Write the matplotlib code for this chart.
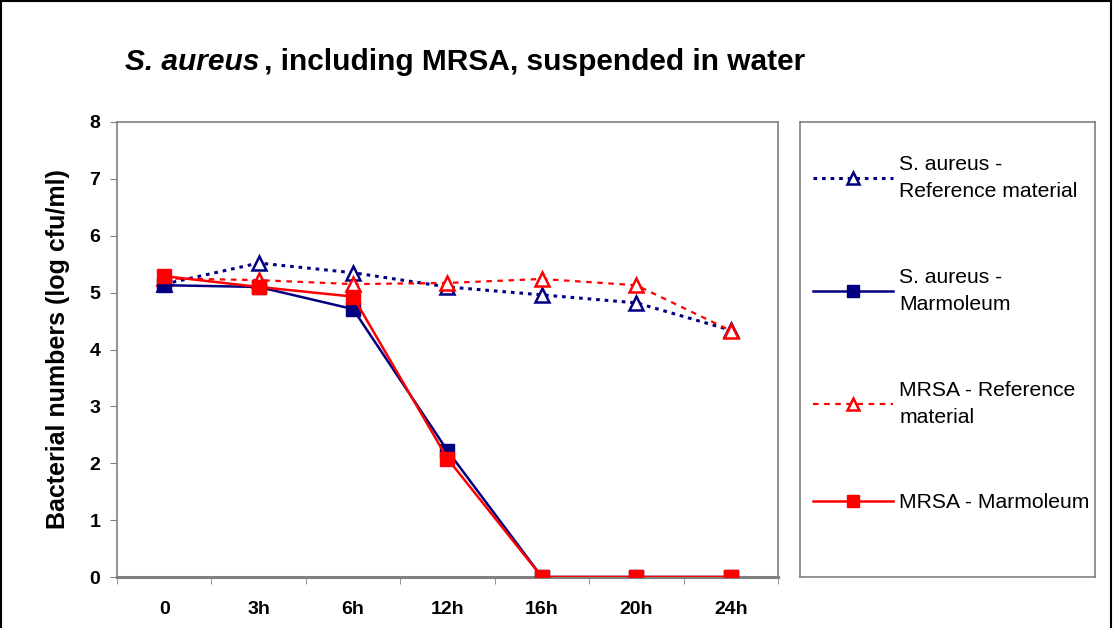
import matplotlib
matplotlib.use("Agg")
import matplotlib.pyplot as plt
from matplotlib.patches import Rectangle
import numpy as np

# ---------------------------------------------------------------------------
# Data (log cfu/ml)
# ---------------------------------------------------------------------------
times = ["0", "3h", "6h", "12h", "16h", "20h", "24h"]
sa_reference = [5.15, 5.52, 5.35, 5.10, 4.96, 4.82, 4.34]
sa_marmoleum = [5.13, 5.10, 4.71, 2.22, 0.0, 0.0, 0.0]
mrsa_reference = [5.25, 5.22, 5.15, 5.17, 5.24, 5.13, 4.33]
mrsa_marmoleum = [5.29, 5.10, 4.93, 2.08, 0.0, 0.0, 0.0]

NAVY = "#000080"
RED = "#FF0000"
GRID = "#808080"
W, H = 1113, 628

plt.rcParams["font.family"] = ["Liberation Sans", "DejaVu Sans"]

fig = plt.figure(figsize=(W / 100, H / 100), dpi=100)
ax = fig.add_axes([117 / W, 1 - 577 / H, (778 - 117) / W, (577 - 122) / H])

x = np.arange(len(times))

ax.plot(x, sa_reference, color=NAVY, linestyle=(0, (1.2, 1.6)), linewidth=2.2,
        marker="^", markersize=10, markerfacecolor="white", markeredgecolor=NAVY,
        markeredgewidth=1.8, label="S. aureus -\nReference material", zorder=3)
ax.plot(x, sa_marmoleum, color=NAVY, linewidth=1.8, marker="s", markersize=10,
        markerfacecolor=NAVY, markeredgecolor=NAVY,
        label="S. aureus -\nMarmoleum", zorder=4)
ax.plot(x, mrsa_reference, color=RED, linestyle=(0, (2.5, 2.5)), linewidth=1.6,
        marker="^", markersize=10, markerfacecolor="white", markeredgecolor=RED,
        markeredgewidth=1.8, label="MRSA - Reference\nmaterial", zorder=3)
ax.plot(x, mrsa_marmoleum, color=RED, linewidth=1.8, marker="s", markersize=10,
        markerfacecolor=RED, markeredgecolor=RED,
        label="MRSA - Marmoleum", zorder=5)

ax.set_xlim(-0.5, len(times) - 0.5)
ax.set_ylim(0, 8)
ax.set_yticks(range(0, 9))
ax.set_xticks(x)
ax.set_xticklabels(times)
ax.set_xticks(np.arange(-0.5, len(times)), minor=True)
ax.tick_params(axis="x", which="major", length=0, pad=17, labelsize=14)
ax.tick_params(axis="x", which="minor", length=5, color=GRID, direction="out")
ax.tick_params(axis="y", length=5, color=GRID, labelsize=14, pad=7)
for lab in ax.get_xticklabels() + ax.get_yticklabels():
    lab.set_fontweight("bold")

for side in ["left", "right", "top"]:
    ax.spines[side].set_color(GRID)
    ax.spines[side].set_linewidth(1.2)
ax.spines["bottom"].set_color(GRID)
ax.spines["bottom"].set_linewidth(2.2)

ax.set_ylabel("Bacterial numbers (log cfu/ml)", fontsize=18, fontweight="bold",
              labelpad=14)

# Title: italic species name followed directly by the rest
t1 = fig.text(125 / W, 1 - 62 / H, "S. aureus", fontsize=21.5, fontweight="bold",
              style="italic", va="center", ha="left")
ax.annotate(", including MRSA, suspended in water", xy=(1, 0), xycoords=t1,
            xytext=(3, 0), textcoords="offset points",
            va="bottom", ha="left", fontsize=21.5, fontweight="bold",
            annotation_clip=False)

# Legend in its own framed box on the right
lax = fig.add_axes([800 / W, 1 - 577 / H, (1095 - 800) / W, (577 - 122) / H])
lax.set_xticks([])
lax.set_yticks([])
for s in lax.spines.values():
    s.set_color(GRID)
    s.set_linewidth(1.2)
handles, labels = ax.get_legend_handles_labels()
leg = lax.legend(handles, labels, loc="upper left", bbox_to_anchor=(0.0, 0.955),
                 fontsize=15.2, frameon=False, handlelength=3.8,
                 labelspacing=3.15, handletextpad=0.3, borderaxespad=0.2,
                 markerscale=0.85)
for txt in leg.get_texts():
    txt.set_linespacing(1.55)

# Figure outer border
fig.patches.append(Rectangle((0.001, -0.01), 0.997, 1.008, transform=fig.transFigure,
                             fill=False, edgecolor="black", linewidth=1.5))

fig.savefig("out.png", dpi=100)
